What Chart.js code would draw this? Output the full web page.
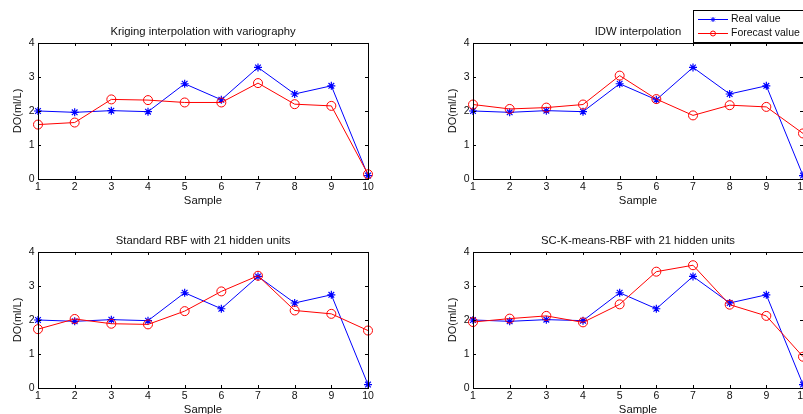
<!DOCTYPE html>
<html>
<head>
<meta charset="utf-8">
<script src="https://cdn.jsdelivr.net/npm/chart.js@4/dist/chart.umd.min.js"></script>
<style>
  html, body { margin: 0; padding: 0; background: #fff; overflow: hidden; width: 803px; height: 414px; }
  .panel { position: absolute; width: 400px; height: 210px; }
</style>
</head>
<body>
<div class="panel" style="left:0;top:0"><canvas id="c1"></canvas></div>
<div class="panel" style="left:435px;top:0"><canvas id="c2"></canvas></div>
<div class="panel" style="left:0;top:209px"><canvas id="c3"></canvas></div>
<div class="panel" style="left:435px;top:209px"><canvas id="c4"></canvas></div>
<script>
const samples = ['1', '2', '3', '4', '5', '6', '7', '8', '9', '10'];
const yTicks = [0, 1, 2, 3, 4];

const realValue = [2.0, 1.96, 2.01, 1.98, 2.8, 2.33, 3.28, 2.5, 2.74, 0.1];

const krigingForecast = [1.6, 1.66, 2.34, 2.32, 2.25, 2.25, 2.82, 2.2, 2.15, 0.14];
const idwForecast = [2.19, 2.06, 2.1, 2.19, 3.04, 2.35, 1.87, 2.17, 2.12, 1.34];
const rbfForecast = [1.73, 2.03, 1.89, 1.87, 2.26, 2.84, 3.3, 2.28, 2.18, 1.69];
const sckmForecast = [1.94, 2.04, 2.12, 1.93, 2.46, 3.42, 3.61, 2.45, 2.12, 0.92];

const FONT = 'Liberation Sans, Arial, sans-serif';
const BLUE = '#0000ff';
const RED = '#ff0000';
const TEXT = '#111';

// MATLAB-like box with inward ticks
const boxPlugin = {
  id: 'box',
  afterDraw(chart) {
    const { ctx, chartArea: a, scales } = chart;
    ctx.save();
    ctx.strokeStyle = '#000';
    ctx.lineWidth = 1;
    ctx.strokeRect(Math.round(a.left) + 0.5, Math.round(a.top) + 0.5,
      Math.round(a.right - a.left), Math.round(a.bottom - a.top));
    const len = 3;
    ctx.beginPath();
    samples.forEach((s, i) => {
      const x = Math.round(scales.x.getPixelForValue(i)) + 0.5;
      ctx.moveTo(x, a.bottom); ctx.lineTo(x, a.bottom - len);
      ctx.moveTo(x, a.top); ctx.lineTo(x, a.top + len);
    });
    yTicks.forEach(v => {
      const y = Math.round(scales.y.getPixelForValue(v)) + 0.5;
      ctx.moveTo(a.left, y); ctx.lineTo(a.left + len, y);
      ctx.moveTo(a.right, y); ctx.lineTo(a.right - len, y);
    });
    ctx.stroke();
    ctx.restore();
  }
};

function drawStar(ctx, x, y, r) {
  ctx.beginPath();
  ctx.moveTo(x - r, y); ctx.lineTo(x + r, y);
  ctx.moveTo(x, y - r); ctx.lineTo(x, y + r);
  const d = r * 0.707;
  ctx.moveTo(x - d, y - d); ctx.lineTo(x + d, y + d);
  ctx.moveTo(x - d, y + d); ctx.lineTo(x + d, y - d);
  ctx.stroke();
}

const legendPlugin = {
  id: 'matlabLegend',
  afterDraw(chart) {
    const ctx = chart.ctx;
    ctx.save();
    ctx.fillStyle = '#fff';
    ctx.fillRect(258, 10, 130, 32);
    ctx.strokeStyle = '#000';
    ctx.lineWidth = 1;
    ctx.strokeRect(258.5, 10.5, 130, 32);
    ctx.font = '10.5px ' + FONT;
    ctx.textBaseline = 'middle';
    ctx.fillStyle = TEXT;
    // Real value
    ctx.strokeStyle = BLUE;
    ctx.beginPath(); ctx.moveTo(263, 19.5); ctx.lineTo(293, 19.5); ctx.stroke();
    drawStar(ctx, 278, 19.5, 2.5);
    ctx.fillText('Real value', 296, 19.5);
    // Forecast value
    ctx.strokeStyle = RED;
    ctx.beginPath(); ctx.moveTo(263, 33.5); ctx.lineTo(293, 33.5); ctx.stroke();
    ctx.beginPath(); ctx.arc(278, 33.5, 2.5, 0, Math.PI * 2); ctx.stroke();
    ctx.fillText('Forecast value', 296, 33.5);
    ctx.restore();
  }
};

function makeChart(id, title, forecast, withLegend) {
  const plugins = [boxPlugin];
  if (withLegend) plugins.push(legendPlugin);
  return new Chart(document.getElementById(id), {
    type: 'line',
    data: {
      labels: samples,
      datasets: [
        {
          label: 'Real value',
          data: realValue,
          borderColor: BLUE,
          borderWidth: 1,
          pointStyle: 'star',
          pointRadius: 4,
          pointBorderColor: BLUE,
          pointBorderWidth: 1.2,
          pointBackgroundColor: BLUE,
          tension: 0,
          clip: false,
          order: 1
        },
        {
          label: 'Forecast value',
          data: forecast,
          borderColor: RED,
          borderWidth: 1,
          pointStyle: 'circle',
          pointRadius: 4.5,
          pointBorderColor: RED,
          pointBorderWidth: 1,
          pointBackgroundColor: 'rgba(0,0,0,0)',
          tension: 0,
          clip: false,
          order: 0
        }
      ]
    },
    options: {
      responsive: true,
      maintainAspectRatio: false,
      animation: false,
      layout: { padding: { left: 0, right: 32, top: 0, bottom: 0 } },
      plugins: {
        legend: { display: false },
        tooltip: { enabled: false },
        title: {
          display: true,
          text: title,
          fullSize: false,
          color: TEXT,
          font: { family: FONT, size: 11.3, weight: 'normal' },
          padding: { top: 25.5, bottom: 3.9 }
        }
      },
      scales: {
        x: {
          type: 'category',
          offset: false,
          grid: { display: false, drawTicks: false },
          border: { display: false },
          ticks: { color: TEXT, font: { family: FONT, size: 10.5 }, padding: 1.5, maxRotation: 0, autoSkip: false },
          title: { display: true, text: 'Sample', color: TEXT, font: { family: FONT, size: 11.3 }, padding: { top: 0, bottom: 2.5 } },
          afterFit(scale) { scale.height = 31; scale.paddingLeft = 0; scale.paddingRight = 0; }
        },
        y: {
          min: 0,
          max: 4,
          grid: { display: false, drawTicks: false },
          border: { display: false },
          ticks: { stepSize: 1, color: TEXT, font: { family: FONT, size: 10.5 }, padding: 3.5 },
          title: { display: true, text: 'DO(ml/L)', color: TEXT, font: { family: FONT, size: 11 }, padding: { top: 11.5, bottom: 0 } },
          afterFit(scale) { scale.width = 38; }
        }
      }
    },
    plugins: plugins
  });
}

makeChart('c1', 'Kriging interpolation with variography', krigingForecast, false);
makeChart('c2', 'IDW interpolation', idwForecast, true);
makeChart('c3', 'Standard RBF with 21 hidden units', rbfForecast, false);
makeChart('c4', 'SC-K-means-RBF with 21 hidden units', sckmForecast, false);
</script>
</body>
</html>
